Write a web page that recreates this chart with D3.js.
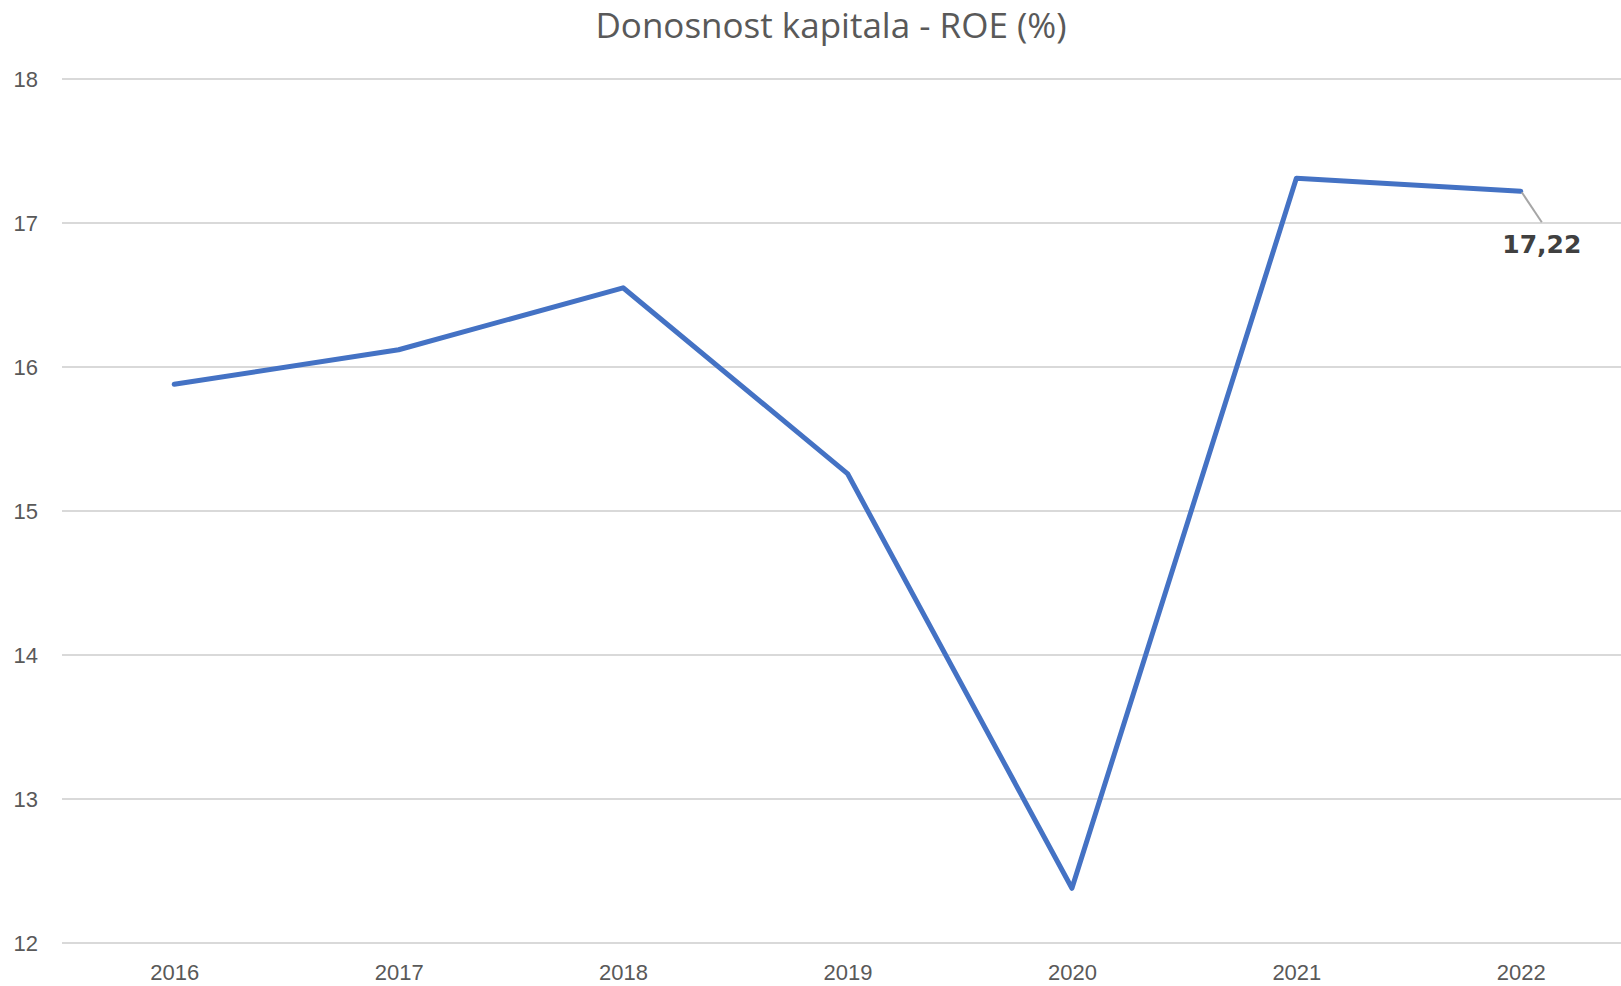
<!DOCTYPE html>
<html>
<head>
<meta charset="utf-8">
<script src="https://cdn.jsdelivr.net/npm/d3@7"></script>
<style>
  body { margin: 0; background: #fff; }
  svg { display: block; font-family: "Liberation Sans", "DejaVu Sans", sans-serif; }
  .grid line { stroke: #d9d9d9; stroke-width: 2; }
  .axis text { fill: #595959; font-size: 22px; }
  .title { fill: #595959; font-size: 35px; font-family: "Open Sans", sans-serif; }
  .series { fill: none; stroke: #4472c4; stroke-width: 5; stroke-linejoin: round; stroke-linecap: round; }
  .leader { stroke: #a6a6a6; stroke-width: 2; }
  .label { fill: #404040; font-size: 25px; font-weight: bold; font-family: "DejaVu Sans", sans-serif; }
</style>
</head>
<body>
<svg width="1621" height="986"></svg>
<script>
var years = ["2016", "2017", "2018", "2019", "2020", "2021", "2022"];
var roe = [15.88, 16.12, 16.55, 15.26, 12.38, 17.31, 17.22];
var yTicks = [12, 13, 14, 15, 16, 17, 18];

var svg = d3.select("svg"),
    margin = {top: 79, right: -12, bottom: 43, left: 62},
    width = +svg.attr("width") - margin.left - margin.right,
    height = +svg.attr("height") - margin.top - margin.bottom;

var x = d3.scalePoint().domain(years).range([0, width]).padding(0.5),
    y = d3.scaleLinear().domain([12, 18]).range([height, 0]);

var chart = svg.append("g")
    .attr("transform", "translate(" + margin.left + "," + margin.top + ")");

// title
svg.append("text")
    .attr("class", "title")
    .attr("x", 831)
    .attr("y", 38)
    .attr("text-anchor", "middle")
    .text("Donosnost kapitala - ROE (%)");

// gridlines
chart.append("g")
    .attr("class", "grid")
    .selectAll("line")
    .data(yTicks)
  .enter().append("line")
    .attr("x1", 0)
    .attr("x2", width)
    .attr("y1", function(d) { return y(d); })
    .attr("y2", function(d) { return y(d); });

// y-axis labels
var yAxis = chart.append("g")
    .attr("class", "axis")
    .call(d3.axisLeft(y).tickValues(yTicks).tickFormat(d3.format("d")).tickSize(0).tickPadding(24));
yAxis.select(".domain").remove();

// x-axis labels
var xAxis = chart.append("g")
    .attr("class", "axis")
    .attr("transform", "translate(0," + height + ")")
    .call(d3.axisBottom(x).tickSize(0).tickPadding(21));
xAxis.select(".domain").remove();

// line
var line = d3.line()
    .x(function(d, i) { return x(years[i]); })
    .y(function(d) { return y(d); });

chart.append("path")
    .datum(roe)
    .attr("class", "series")
    .attr("d", line);

// data label on last point
var last = roe.length - 1,
    lx = x(years[last]),
    ly = y(roe[last]);

chart.append("line")
    .attr("class", "leader")
    .attr("x1", lx + 1)
    .attr("y1", ly + 1)
    .attr("x2", lx + 21)
    .attr("y2", ly + 31);

chart.append("text")
    .attr("class", "label")
    .attr("x", lx + 21)
    .attr("y", ly + 62)
    .attr("text-anchor", "middle")
    .text(roe[last].toFixed(2).replace(".", ","));
</script>
</body>
</html>
